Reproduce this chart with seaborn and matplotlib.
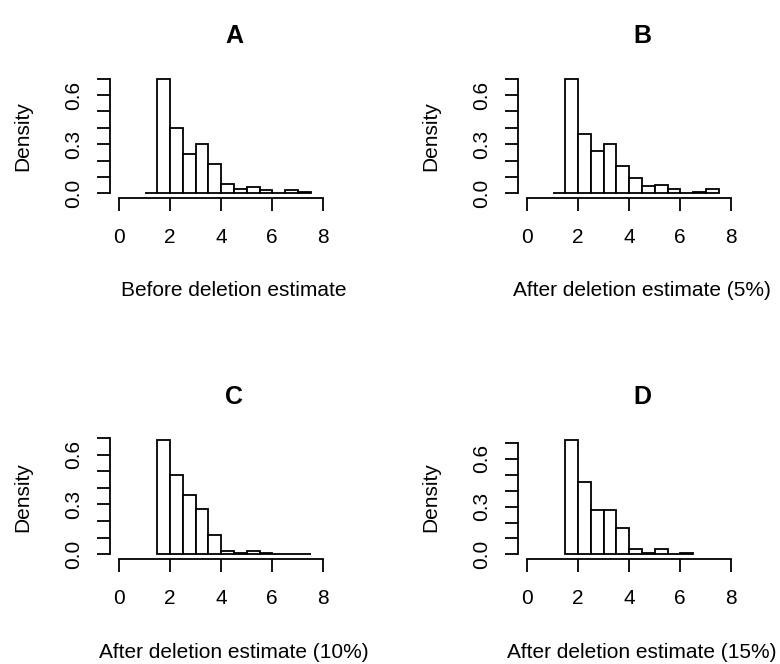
import numpy as np
import matplotlib
matplotlib.use("Agg")
import matplotlib.pyplot as plt
import seaborn as sns

# ---- data (density per 0.5-wide bin) ----
edges_A = [1.0, 1.5, 2.0, 2.5, 3.0, 3.5, 4.0, 4.5, 5.0, 5.5, 6.0, 6.5, 7.0, 7.5]
dens_A = [0.005, 0.70, 0.40, 0.24, 0.30, 0.18, 0.058, 0.029, 0.037, 0.019, 0.0, 0.019, 0.008]

edges_B = [1.0, 1.5, 2.0, 2.5, 3.0, 3.5, 4.0, 4.5, 5.0, 5.5, 6.0, 6.5, 7.0, 7.5]
dens_B = [0.005, 0.70, 0.36, 0.26, 0.30, 0.17, 0.095, 0.043, 0.053, 0.024, 0.0, 0.01, 0.024]

edges_C = [1.5, 2.0, 2.5, 3.0, 3.5, 4.0, 4.5, 5.0, 5.5, 6.0, 6.5, 7.0, 7.5]
dens_C = [0.69, 0.48, 0.357, 0.27, 0.118, 0.02, 0.008, 0.02, 0.008, 0.005, 0.005, 0.005]

edges_D = [1.5, 2.0, 2.5, 3.0, 3.5, 4.0, 4.5, 5.0, 5.5, 6.0, 6.5]
dens_D = [0.72, 0.455, 0.28, 0.28, 0.165, 0.032, 0.01, 0.032, 0.0, 0.008]

titles = ["A", "B", "C", "D"]
xlabels = ["Before deletion estimate", "After deletion estimate (5%)",
           "After deletion estimate (10%)", "After deletion estimate (15%)"]
ylabel = "Density"
xticks = [0, 2, 4, 6, 8]
yticks = [0.0, 0.1, 0.2, 0.3, 0.4, 0.5, 0.6, 0.7]
ytick_labels = ["0.0", "", "", "0.3", "", "", "0.6", ""]

sns.set_theme(style="white")
plt.rcParams['font.family'] = ['Liberation Sans', 'DejaVu Sans']

W, H = 780, 664
fig = plt.figure(figsize=(W / 100, H / 100), dpi=100)
fig.patch.set_facecolor("white")

# pixel boxes: left, right, top, bottom
boxes = [(110, 358, 74, 198), (518, 766, 74, 198),
         (110, 358, 435, 559), (518, 766, 435, 559)]
data = [(edges_A, dens_A), (edges_B, dens_B), (edges_C, dens_C), (edges_D, dens_D)]

lw = 1.3
fs = 15
for i, ((l, r, t, b), (edges, dens)) in enumerate(zip(boxes, data)):
    ax = fig.add_axes([l / W, 1 - b / H, (r - l) / W, (b - t) / H])
    ax.set_facecolor("white")
    centers = [(edges[k] + edges[k + 1]) / 2 for k in range(len(dens))]
    sns.histplot(x=centers, weights=dens, bins=edges, stat="count",
                 color="white", edgecolor="black", linewidth=lw, alpha=1,
                 ax=ax)
    m = max(dens)
    ax.set_xlim(-0.36, 9.36)
    ax.set_ylim(-0.04 * m, 1.04 * m)
    for s in ["top", "right"]:
        ax.spines[s].set_visible(False)
    for s in ["left", "bottom"]:
        ax.spines[s].set_visible(True)
        ax.spines[s].set_color("black")
        ax.spines[s].set_linewidth(lw)
    ax.spines["left"].set_bounds(0, 0.7)
    ax.spines["bottom"].set_bounds(0, 8)
    ax.set_xticks(xticks)
    ax.set_xticklabels([str(v) for v in xticks])
    ax.set_yticks(yticks)
    ax.set_yticklabels(ytick_labels, rotation=90, va="center")
    ax.tick_params(axis="both", which="major", direction="out", length=9.4,
                   width=lw, color="black", labelsize=fs, labelcolor="black",
                   bottom=True, left=True)
    ax.tick_params(axis="x", pad=12)
    ax.tick_params(axis="y", pad=10)
    ax.grid(False)
    hpx = b - t
    wpx = r - l
    ax.set_xlabel(xlabels[i], fontsize=fs, color="black", va="center")
    ax.xaxis.set_label_coords(0.5, -93 / hpx)
    ax.set_ylabel(ylabel, fontsize=fs, color="black", va="center")
    ax.yaxis.set_label_coords(-87 / wpx, 0.5)
    ax.set_title(titles[i], fontsize=18, fontweight="bold", color="black",
                 y=1 + 38 / hpx, va="center", pad=0)

fig.savefig("out.png", dpi=100, facecolor="white")
